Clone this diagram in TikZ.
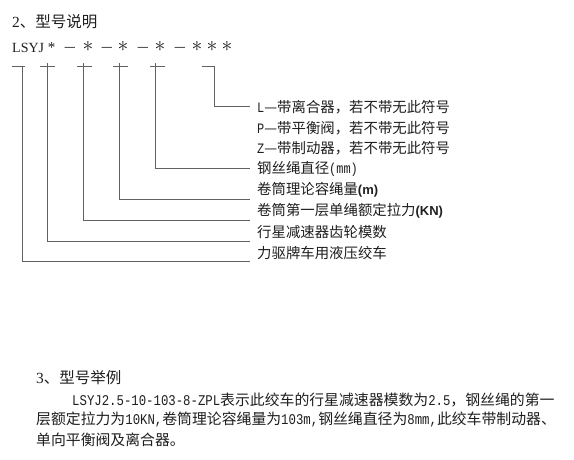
\documentclass[tikz,border=0pt]{standalone}
\usepackage{fontspec}
\setmainfont{Liberation Serif}
\newfontfamily\cjk{Noto Sans CJK SC}
\newfontfamily\monof[FakeStretch=0.83]{Liberation Mono}
\newfontfamily\sansf{Liberation Sans}
\newcommand\mlat[1]{{\fontsize{14.4}{17}\monof #1}}
\newcommand\plat[1]{{\fontsize{14.86}{17}\monof #1}}
\newcommand\bsans[1]{{\fontsize{13}{15}\sansf\bfseries #1}}
\newcommand\bigast{\smash{\scalebox{1.5}{$\ast$}}}
\begin{document}
\begin{tikzpicture}[x=1pt,y=-1pt,
  lbl/.style={anchor=west, inner sep=0pt, text=black!88, font=\fontsize{14.4}{17}\cjk},
  paraline/.style={anchor=west, inner sep=0pt, text=black!88, font=\fontsize{14.86}{20}\cjk},
  head/.style={anchor=west, inner sep=0pt, text=black!88, font=\fontsize{15.5}{18}\cjk},
  conn/.style={draw=black!62, line width=1pt},
  sym/.style={inner sep=0pt, text=black!88},
  star/.style={sym, anchor=base, font=\fontsize{15}{18}\selectfont},
  dashsym/.style={sym, anchor=base, font=\fontsize{13}{14}\cjk}]
\fill[white] (0,0) rectangle (574,459);
\useasboundingbox (0,0) rectangle (574,459);

% heading 2
\node[head] (h2) at (12,22) {{\rmfamily 2}、型号说明};

% model code row
\node[sym, anchor=base west, font=\fontsize{14}{17}\selectfont] (c0) at (12,52) {LSYJ};
\node[sym, anchor=base, font=\fontsize{15}{18}\selectfont] (c1) at (51.5,52) {\smash{*}};
\node[dashsym] (d1) at (70,51) {\smash{—}};
\node[star] (s2) at (88,51.5) {\bigast};
\node[dashsym] (d2) at (107,51) {\smash{—}};
\node[star] (s3) at (123,51.5) {\bigast};
\node[dashsym] (d3) at (143,51) {\smash{—}};
\node[star] (s4) at (160,51.5) {\bigast};
\node[dashsym] (d4) at (180,51) {\smash{—}};
\node[star] (s5) at (197,51.5) {\bigast};
\node[star] (s6) at (212,51.5) {\bigast};
\node[star] (s7) at (227,51.5) {\bigast};

% tick marks
\coordinate (k1) at (22.7,66);
\coordinate (k2) at (47,66);
\coordinate (k3) at (83,66);
\coordinate (k4) at (119,66);
\coordinate (k5) at (155,66);
\coordinate (k6) at (214,66);
\draw[conn] (12,66) -- (25,66);
\draw[conn] (40,66) -- (55,66);
\draw[conn] (77,66) -- (92,66);
\draw[conn] (113,66) -- (128,66);
\draw[conn] (150,66) -- (165,66);
\draw[conn] (202,66) -- (215,66);
\draw[conn] (47,63) -- (k2);
\draw[conn] (83,63) -- (k3);
\draw[conn] (119,63) -- (k4);
\draw[conn] (155,63) -- (k5);

% labels
\node[lbl] (tL) at (257,107) {\mlat{L}—带离合器，若不带无此符号};
\node[lbl] (tP) at (257,127.8) {\mlat{P}—带平衡阀，若不带无此符号};
\node[lbl] (tZ) at (257,148.6) {\mlat{Z}—带制动器，若不带无此符号};
\node[lbl] (tD) at (257,169.4) {钢丝绳直径\mlat{(mm)}};
\node[lbl] (tC) at (257,190.2) {卷筒理论容绳量\bsans{(m)}};
\node[lbl] (tF) at (257,211) {卷筒第一层单绳额定拉力\bsans{(KN)}};
\node[lbl] (tG) at (257,231.8) {行星减速器齿轮模数};
\node[lbl] (tB) at (257,252.6) {力驱牌车用液压绞车};

% connector ends
\coordinate (eL) at (250,106);
\coordinate (eD) at (250,168);
\coordinate (eC) at (250,199);
\coordinate (eF) at (250,220);
\coordinate (eG) at (250,241);
\coordinate (eB) at (250,261);
\draw[conn] (k6) |- (eL);
\draw[conn] (k5) |- (eD);
\draw[conn] (k4) |- (eC);
\draw[conn] (k3) |- (eF);
\draw[conn] (k2) |- (eG);
\draw[conn] (k1) |- (eB);

% heading 3 and example
\node[head] (h3) at (36,378) {{\rmfamily 3}、型号举例};
\node[paraline] (p1) at (72,400) {\plat{LSYJ2.5-10-103-8-ZPL}表示此绞车的行星减速器模数为\plat{2.5}，钢丝绳的第一};
\node[paraline] (p2) at (36,420) {层额定拉力为\plat{10KN,}卷筒理论容绳量为\plat{103m,}钢丝绳直径为\plat{8mm,}此绞车带制动器、};
\node[paraline] (p3) at (36,440) {单向平衡阀及离合器。};
\end{tikzpicture}
\end{document}
